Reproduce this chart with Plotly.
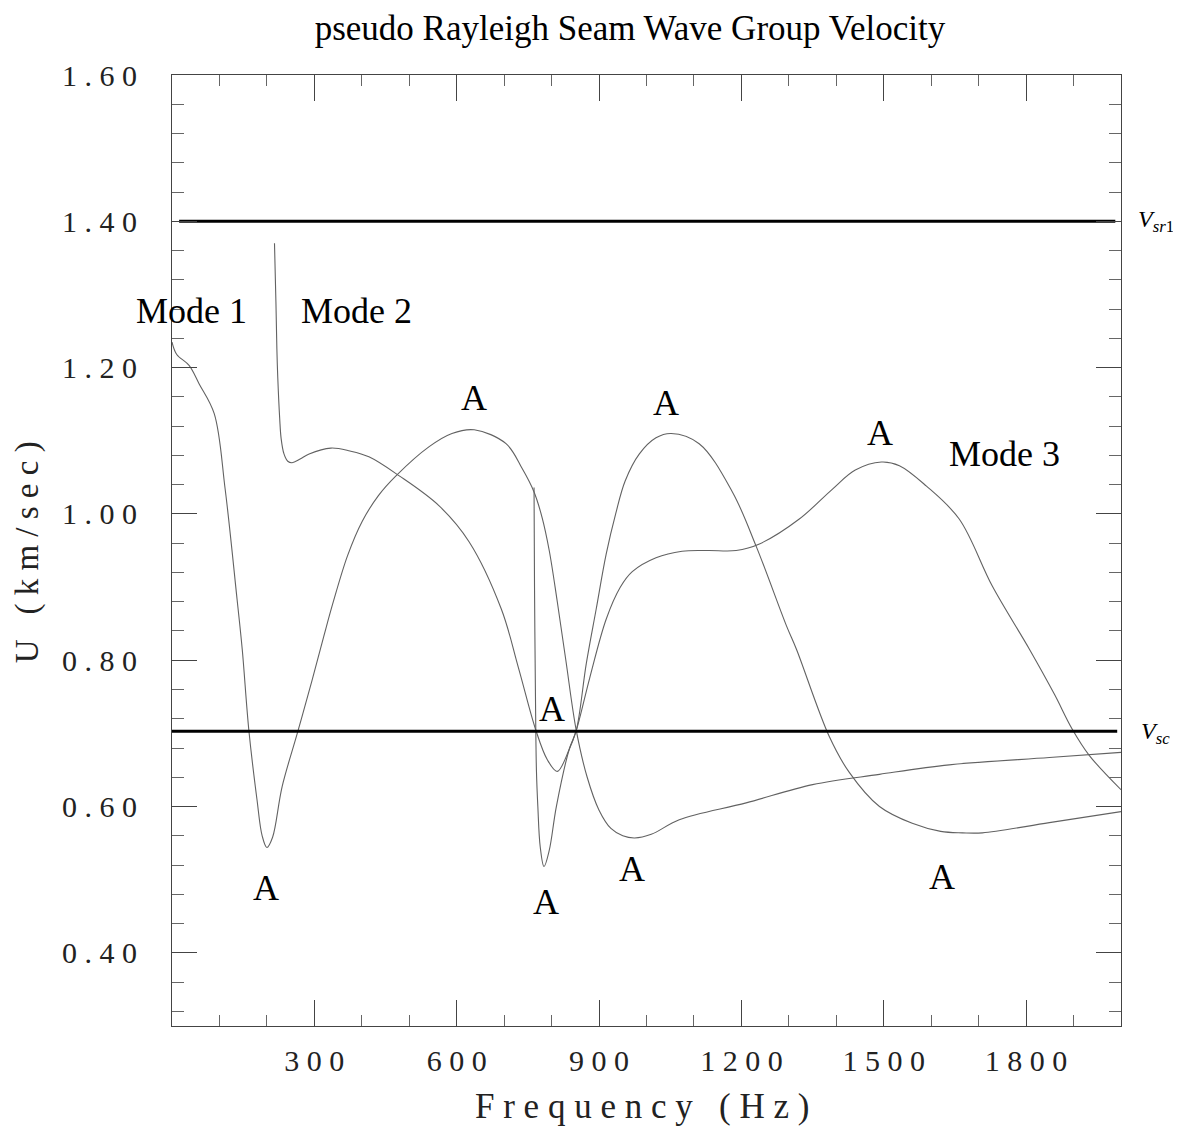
import plotly.graph_objects as go

# ---- data ----
mode1_f = [0, 10, 36, 57, 89, 112, 137, 148, 162, 179, 190, 200, 212, 232, 264, 295, 320, 340, 370, 401, 435, 472, 542, 590, 637, 704, 738, 763, 780, 795, 812, 830, 852, 875, 900, 925, 950, 975, 1010, 1069, 1210, 1350, 1491, 1638, 1849, 2000]
mode1_u = [1.235, 1.218, 1.203, 1.178, 1.137, 1.034, 0.884, 0.815, 0.704, 0.610, 0.560, 0.544, 0.558, 0.627, 0.700, 0.772, 0.833, 0.880, 0.943, 0.990, 1.025, 1.052, 1.092, 1.110, 1.115, 1.096, 1.062, 1.030, 0.995, 0.950, 0.880, 0.800, 0.704, 0.640, 0.595, 0.570, 0.560, 0.557, 0.562, 0.582, 0.605, 0.630, 0.644, 0.657, 0.667, 0.674]

mode2_f = [216, 219, 221, 223, 227, 230, 236, 244, 253, 270, 289, 335, 375, 415, 479, 563, 626, 694, 730, 767, 791, 812, 837, 852, 880, 915, 945, 970, 1020, 1075, 1130, 1189, 1238, 1322, 1392, 1440, 1495, 1533, 1590, 1659, 1729, 1807, 1860, 1897, 1933, 2000]
mode2_u = [1.370, 1.290, 1.226, 1.185, 1.130, 1.103, 1.082, 1.072, 1.070, 1.075, 1.082, 1.090, 1.086, 1.078, 1.052, 1.011, 0.962, 0.870, 0.790, 0.704, 0.664, 0.648, 0.678, 0.704, 0.775, 0.856, 0.900, 0.921, 0.940, 0.949, 0.950, 0.950, 0.959, 0.993, 1.034, 1.060, 1.071, 1.066, 1.038, 0.993, 0.901, 0.815, 0.753, 0.706, 0.670, 0.623]

mode3_f = [763, 764, 766, 768, 771, 776, 784, 795, 810, 837, 852, 873, 894, 915, 935, 955, 985, 1020, 1052, 1111, 1181, 1231, 1295, 1316, 1385, 1427, 1491, 1560, 1620, 1666, 1708, 1849, 2000]
mode3_u = [1.036, 0.900, 0.750, 0.650, 0.600, 0.545, 0.518, 0.540, 0.600, 0.678, 0.704, 0.795, 0.870, 0.945, 1.000, 1.045, 1.082, 1.104, 1.110, 1.096, 1.030, 0.956, 0.847, 0.815, 0.696, 0.647, 0.600, 0.577, 0.566, 0.564, 0.564, 0.578, 0.593]

vsr1_f = [15, 1988]
vsr1_u = [1.40, 1.40]
vsc_f = [0, 1992]
vsc_u = [0.703, 0.703]

x_tickvals = [300, 600, 900, 1200, 1500, 1800]
x_ticktext = ["3 0 0", "6 0 0", "9 0 0", "1 2 0 0", "1 5 0 0", "1 8 0 0"]
y_tickvals = [0.40, 0.60, 0.80, 1.00, 1.20, 1.40, 1.60]
y_ticktext = ["0 . 4 0", "0 . 6 0", "0 . 8 0", "1 . 0 0", "1 . 2 0", "1 . 4 0", "1 . 6 0"]

mode_labels = ["Mode 1", "Mode 2", "Mode 3"]
mode_label_f = [42, 388, 1754]
mode_label_u = [1.278, 1.278, 1.082]

a_f = [637, 1042, 1493, 801, 198, 789, 970, 1623]
a_u = [1.158, 1.151, 1.110, 0.733, 0.489, 0.470, 0.514, 0.504]

FONT = "Liberation Serif, Times New Roman, serif"
CURVE = "#626262"

fig = go.Figure()
for f, u in [(mode1_f, mode1_u), (mode2_f, mode2_u), (mode3_f, mode3_u)]:
    fig.add_trace(go.Scatter(x=f, y=u, mode="lines",
                             line=dict(color=CURVE, width=1.1, shape="spline", smoothing=1.0),
                             showlegend=False, hoverinfo="skip"))
for f, u in [(vsr1_f, vsr1_u), (vsc_f, vsc_u)]:
    fig.add_trace(go.Scatter(x=f, y=u, mode="lines",
                             line=dict(color="black", width=3),
                             showlegend=False, hoverinfo="skip"))

ann = []
for t, xf, yu in zip(mode_labels, mode_label_f, mode_label_u):
    ann.append(dict(x=xf, y=yu, xref="x", yref="y", text=t, showarrow=False,
                    font=dict(family=FONT, size=36, color="black")))
for xf, yu in zip(a_f, a_u):
    ann.append(dict(x=xf, y=yu, xref="x", yref="y", text="A", showarrow=False,
                    font=dict(family=FONT, size=36, color="black")))
ann.append(dict(x=1.0155, y=1.40, xref="paper", yref="y", xanchor="left",
                text="<i>V</i><sub><i>sr</i>1</sub>", showarrow=False,
                font=dict(family=FONT, size=24, color="black")))
ann.append(dict(x=1.019, y=0.70, xref="paper", yref="y", xanchor="left",
                text="<i>V</i><sub><i>sc</i></sub>", showarrow=False,
                font=dict(family=FONT, size=24, color="black")))
ann.append(dict(x=0.495, y=-0.085, xref="paper", yref="paper",
                text="F r e q u e n c y   ( H z )", showarrow=False,
                yanchor="middle", font=dict(family=FONT, size=35, color="#222")))
ann.append(dict(x=-0.152, y=0.498, xref="paper", yref="paper",
                text="U   ( k m / s e c )", showarrow=False, textangle=-90,
                xanchor="center", yanchor="middle",
                font=dict(family=FONT, size=33, color="#222")))

# the page body adds an 8 px offset on each side; keep the figure inside the window
W, H = 1165, 1121
fig.update_layout(
    width=W, height=H,
    margin=dict(l=164, r=52, t=67, b=103),
    paper_bgcolor="white", plot_bgcolor="white",
    title=dict(text="pseudo Rayleigh Seam Wave Group Velocity", xref="container",
               x=(630 - 8) / W, xanchor="center", y=1 - (28 - 8) / H, yanchor="middle",
               font=dict(family=FONT, size=35, color="black")),
    annotations=ann,
    font=dict(family=FONT, color="#222"),
)
fig.update_xaxes(range=[0, 2000], showgrid=False, zeroline=False,
                 showline=True, linecolor="#444", linewidth=1, mirror="ticks",
                 ticks="inside", ticklen=26, tickcolor="#444", tickwidth=1,
                 tickmode="array", tickvals=x_tickvals, ticktext=x_ticktext,
                 tickfont=dict(family=FONT, size=30, color="#222"),
                 ticklabelstandoff=8,
                 minor=dict(ticks="inside", ticklen=11, tickcolor="#666", tickmode="linear", tick0=0, dtick=100, showgrid=False))
fig.update_yaxes(range=[0.30, 1.60], showgrid=False, zeroline=False,
                 showline=True, linecolor="#444", linewidth=1, mirror="ticks",
                 ticks="inside", ticklen=25, tickcolor="#444", tickwidth=1,
                 tickmode="array", tickvals=y_tickvals, ticktext=y_ticktext,
                 tickfont=dict(family=FONT, size=30, color="#222"),
                 ticklabelstandoff=28,
                 minor=dict(ticks="inside", ticklen=12, tickcolor="#666", tickmode="linear", tick0=0, dtick=0.04, showgrid=False))

fig.write_html("out.html")
